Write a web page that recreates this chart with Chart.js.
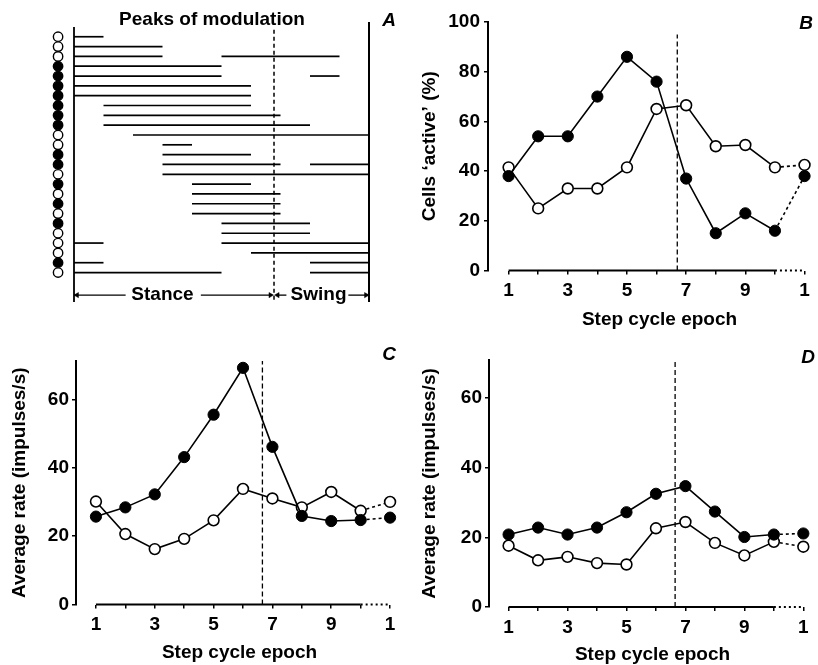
<!DOCTYPE html>
<html>
<head>
<meta charset="utf-8">
<script src="https://cdn.jsdelivr.net/npm/chart.js@4/dist/chart.umd.min.js"></script>
<style>
html,body{margin:0;padding:0;background:#fff;overflow:hidden;width:818px;height:665px;position:relative;}
canvas{position:absolute;}
</style>
</head>
<body>
<canvas id="cA" width="410" height="315" style="left:0;top:0;width:410px;height:315px"></canvas>
<canvas id="cB" width="428" height="332" style="left:410px;top:0;width:428px;height:332px"></canvas>
<canvas id="cC" width="410" height="335" style="left:0;top:330px;width:410px;height:335px"></canvas>
<canvas id="cD" width="413" height="335" style="left:410px;top:330px;width:413px;height:335px"></canvas>
<script>
// ---------- DATA ----------
// Panel A: peaks of modulation per cell (epoch ranges, 0..10 across the step cycle)
const rowSegments = [
  [[0,1]],
  [[0,3]],
  [[0,3],[5,9]],
  [[0,5]],
  [[0,5],[8,9]],
  [[0,6]],
  [[0,6]],
  [[1,6]],
  [[1,7]],
  [[1,8]],
  [[2,10]],
  [[3,4]],
  [[3,6]],
  [[3,7],[8,10]],
  [[3,10]],
  [[4,6]],
  [[4,7]],
  [[4,7]],
  [[4,7]],
  [[5,8]],
  [[5,8]],
  [[0,1],[5,10]],
  [[6,10]],
  [[0,1],[8,10]],
  [[0,5],[8,10]]
];
const cellFilled = [0,0,0,1,1,1,1,1,1,1,0,0,1,1,0,1,0,1,0,1,0,0,0,1,0];
const stanceSwingBoundaryA = 6.78;

// Panels B-D
const epochs = [1,2,3,4,5,6,7,8,9,10,11];
const epochTickLabels = {1:'1',3:'3',5:'5',7:'7',9:'9',11:'1'};
const activeFilled = [38, 54, 54, 70, 86, 76, 37, 15, 23, 16, 38];
const activeOpen   = [41.5, 25, 33, 33, 41.5, 65, 66.5, 50, 50.5, 41.5, 42.5];
const rateCFilled  = [25.7, 28.4, 32.2, 43.1, 55.5, 69.2, 46.1, 25.9, 24.4, 24.7, 25.4];
const rateCOpen    = [30.1, 20.6, 16.2, 19.2, 24.6, 33.8, 31.0, 28.4, 32.9, 27.4, 30.0];
const rateDFilled  = [20.8, 22.8, 20.8, 22.8, 27.2, 32.5, 34.7, 27.4, 20.1, 20.8, 21.1];
const rateDOpen    = [17.6, 13.4, 14.4, 12.6, 12.2, 22.6, 24.4, 18.4, 14.8, 18.7, 17.3];
const swingOnsetB = 6.7, swingOnsetC = 6.66, swingOnsetD = 6.65;

// ---------- STYLE ----------
const FONT = "'Liberation Sans', Arial, Helvetica, sans-serif";
Chart.defaults.font.family = FONT;
Chart.defaults.font.weight = 'bold';
Chart.defaults.font.size = 19;
Chart.defaults.color = '#000';
Chart.defaults.animation = false;
Chart.defaults.events = [];
Chart.defaults.plugins.legend.display = false;
Chart.defaults.plugins.tooltip.enabled = false;

const textPlugin = {
  id: 'texts',
  afterDraw(chart, args, opts) {
    const ctx = chart.ctx;
    (opts.items || []).forEach(it => {
      ctx.save();
      ctx.font = it.font;
      ctx.fillStyle = '#000';
      ctx.textAlign = 'center';
      ctx.textBaseline = 'middle';
      let x = it.x, y = it.y;
      if (it.dataX !== undefined) x = chart.scales.x.getPixelForValue(it.dataX);
      if (it.dataY !== undefined) y = chart.scales.y.getPixelForValue(it.dataY);
      ctx.fillText(it.text, x, y);
      ctx.restore();
    });
  }
};

// ---------- PANEL A ----------
const aDatasets = [];
function seg(x0, y0, x1, y1, extra) {
  return Object.assign({
    data: [{x:x0,y:y0},{x:x1,y:y1}], showLine: true, borderColor: '#000',
    borderWidth: 1.7, pointRadius: 0, clip: false
  }, extra || {});
}
rowSegments.forEach((segs, i) => segs.forEach(([s, e]) => aDatasets.push(seg(s, i + 1, e, i + 1))));
// cell markers
aDatasets.push({
  data: cellFilled.map((f, i) => ({x: -0.54, y: i + 1})),
  pointRadius: 4.7, pointBorderWidth: 1.4, pointBorderColor: '#000',
  pointBackgroundColor: cellFilled.map(f => f ? '#000' : '#fff'), clip: false
});
// frame lines
aDatasets.push(seg(0, 0, 0, 28, {borderWidth: 1.8}));
aDatasets.push(seg(10, -0.5, 10, 28, {borderWidth: 2}));
aDatasets.push(seg(stanceSwingBoundaryA, 0.3, stanceSwingBoundaryA, 28, {borderWidth: 1.5, borderDash: [4,3]}));
// stance / swing arrows
const arrowY = 27.3;
aDatasets.push(seg(0, arrowY, 1.75, arrowY, {borderWidth: 1.3}));
aDatasets.push(seg(4.3, arrowY, 6.72, arrowY, {borderWidth: 1.3}));
aDatasets.push(seg(6.86, arrowY, 7.2, arrowY, {borderWidth: 1.3}));
aDatasets.push(seg(9.3, arrowY, 9.97, arrowY, {borderWidth: 1.3}));
aDatasets.push({
  data: [{x:0.1,y:arrowY},{x:6.66,y:arrowY},{x:6.9,y:arrowY},{x:9.9,y:arrowY}],
  pointStyle: 'triangle', pointRadius: 3, pointRotation: [-90, 90, -90, 90],
  pointBackgroundColor: '#000', pointBorderColor: '#000', pointBorderWidth: 0.5, clip: false
});

new Chart(document.getElementById('cA'), {
  type: 'scatter',
  data: {datasets: aDatasets},
  options: {
    responsive: false,
    layout: {padding: {left: 44.5, right: 11.5, top: 22, bottom: 13}},
    scales: {
      x: {type: 'linear', min: -1, max: 11, display: false},
      y: {type: 'linear', min: -0.5, max: 28, reverse: true, display: false}
    },
    plugins: {
      texts: {items: [
        {text: 'Peaks of modulation', x: 212, y: 20, font: "bold 19px " + FONT},
        {text: 'A', x: 389, y: 21, font: "italic bold 19px " + FONT},
        {text: 'Stance', dataX: 3.0, dataY: arrowY, font: "bold 19px " + FONT},
        {text: 'Swing', dataX: 8.29, dataY: arrowY, font: "bold 19px " + FONT}
      ]}
    }
  },
  plugins: [textPlugin]
});

// ---------- PANELS B-D ----------
function ratePanel(id, filled, open, cfg) {
  const pts = arr => epochs.map((x, i) => ({x, y: arr[i]}));
  const dash10 = {borderDash: ctx => ctx.p0DataIndex === 9 ? [3,3] : undefined};
  const datasets = [
    {data: pts(filled), showLine: true, borderColor: '#000', borderWidth: 1.6,
     pointRadius: 5.6, pointBackgroundColor: '#000', pointBorderColor: '#000', pointBorderWidth: 1,
     segment: dash10, clip: false},
    {data: pts(open), showLine: true, borderColor: '#000', borderWidth: 1.6,
     pointRadius: 5.4, pointBackgroundColor: '#fff', pointBorderColor: '#000', pointBorderWidth: 1.6,
     segment: dash10, clip: false},
    {data: [{x: cfg.swing, y: 0}, {x: cfg.swing, y: cfg.dashTop}], showLine: true,
     borderColor: '#000', borderWidth: 1.3, borderDash: [5,3], pointRadius: 0, clip: false},
    {data: epochs.map(x => ({x, y: 0})), showLine: true, borderColor: '#000', borderWidth: 2,
     pointRadius: 0, segment: {borderDash: ctx => ctx.p0DataIndex === 9 ? [2,3] : undefined}, clip: false}
  ];
  return new Chart(document.getElementById(id), {
    type: 'scatter',
    data: {datasets},
    options: {
      responsive: false,
      layout: {padding: {left: 0, right: cfg.padRight, top: cfg.padTop, bottom: 0}},
      scales: {
        x: {
          type: 'linear', min: cfg.xMin, max: cfg.xMax,
          afterFit: s => { s.height = cfg.xHeight; },
          border: {display: false},
          grid: {display: true, drawOnChartArea: false, drawTicks: true, tickLength: 4, color: '#000', lineWidth: 1.5},
          ticks: {stepSize: 1, includeBounds: false, autoSkip: false, maxRotation: 0, padding: 5,
                  callback: v => epochTickLabels[v] || ''},
          title: {display: true, text: 'Step cycle epoch', padding: {top: 0, bottom: cfg.titlePadB}}
        },
        y: {
          type: 'linear', min: 0, max: cfg.yMax,
          afterFit: s => { s.width = cfg.yWidth; },
          border: {display: true, color: '#000', width: 2},
          grid: {display: true, drawOnChartArea: false, drawTicks: true, tickLength: 4, color: '#000', lineWidth: 1.5},
          ticks: {stepSize: 20, includeBounds: false, padding: cfg.yTickPad},
          title: {display: true, text: cfg.yTitle, padding: {top: 8.6, bottom: 0}}
        }
      },
      plugins: {
        texts: {items: [{text: cfg.letter, x: cfg.letterX, y: cfg.letterY, font: "italic bold 19px " + FONT}]}
      }
    },
    plugins: [textPlugin]
  });
}

ratePanel('cB', activeFilled, activeOpen, {
  xMin: 0.3046, xMax: 11.894, yMax: 100, padTop: 22, padRight: 0,
  xHeight: 61.5, yWidth: 78, yTickPad: 4, titlePadB: 0.6,
  swing: swingOnsetB, dashTop: 95, yTitle: 'Cells \u2018active\u2019 (%)',
  letter: 'B', letterX: 396, letterY: 24
});
ratePanel('cC', rateCFilled, rateCOpen, {
  xMin: 0.322, xMax: 11.44, yMax: 71.2, padTop: 31, padRight: 6,
  xHeight: 60.5, yWidth: 76, yTickPad: 3, titlePadB: 0.6,
  swing: swingOnsetC, dashTop: 71.2, yTitle: 'Average rate (impulses/s)',
  letter: 'C', letterX: 389, letterY: 25
});
ratePanel('cD', rateDFilled, rateDOpen, {
  xMin: 0.3355, xMax: 11.43, yMax: 70.9, padTop: 30, padRight: 0,
  xHeight: 58, yWidth: 79, yTickPad: 3, titlePadB: -1.4,
  swing: swingOnsetD, dashTop: 70.9, yTitle: 'Average rate (impulses/s)',
  letter: 'D', letterX: 398, letterY: 28
});
</script>
</body>
</html>
